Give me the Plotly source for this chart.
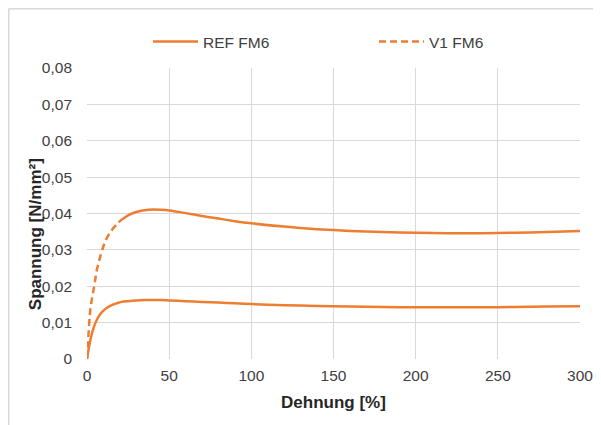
import plotly.graph_objects as go

strain = [0, 0.5, 1, 2, 3, 4, 5, 6, 8, 10, 12, 15, 18, 21, 25, 30, 35, 40, 45, 50,
          60, 70, 80, 90, 100, 120, 140, 160, 180, 200, 220, 240, 260, 280, 300]

ref_fm6 = [0, 0.0014, 0.0027, 0.0051, 0.0070, 0.0085, 0.0098, 0.0108, 0.0123, 0.0133,
           0.0140, 0.0148, 0.0153, 0.0157, 0.0159, 0.0161, 0.0162, 0.0162, 0.0162, 0.0161,
           0.0159, 0.0157, 0.0155, 0.0153, 0.0151, 0.0148, 0.0146, 0.0144, 0.0143, 0.0142,
           0.0142, 0.0142, 0.0143, 0.0144, 0.0145]

v1_fm6 = [0, 0.0040, 0.0075, 0.0135, 0.0165, 0.0190, 0.0218, 0.0245, 0.0280, 0.0310,
          0.0332, 0.0354, 0.0370, 0.0383, 0.0395, 0.0404, 0.0409, 0.0411, 0.0410, 0.0408,
          0.0401, 0.0393, 0.0386, 0.0379, 0.0373, 0.0364, 0.0357, 0.0352, 0.0349, 0.0347,
          0.0346, 0.0346, 0.0347, 0.0349, 0.0352]

y_ticks = [0, 0.01, 0.02, 0.03, 0.04, 0.05, 0.06, 0.07, 0.08]
y_ticktext = ["0", "0,01", "0,02", "0,03", "0,04", "0,05", "0,06", "0,07", "0,08"]
x_ticks = [0, 50, 100, 150, 200, 250, 300]

x_title = "Dehnung [%]"
y_title = "Spannung [N/mm²]"

ORANGE = "#ED7D31"
GRID = "#D9D9D9"
FONT = "Liberation Sans, Arial, sans-serif"

split = strain.index(21)

fig = go.Figure()
fig.add_trace(go.Scatter(x=strain, y=ref_fm6, mode="lines", name="REF FM6",
                         line=dict(color=ORANGE, width=2.5, shape="spline", smoothing=0.8),
                         legend="legend"))
fig.add_trace(go.Scatter(x=strain[:split + 1], y=v1_fm6[:split + 1], mode="lines", name="V1 FM6",
                         line=dict(color=ORANGE, width=2.5, dash="7px,4px", shape="spline", smoothing=0.8),
                         legend="legend2", legendgroup="v1"))
fig.add_trace(go.Scatter(x=strain[split:], y=v1_fm6[split:], mode="lines", name="V1 FM6",
                         line=dict(color=ORANGE, width=2.5, shape="spline", smoothing=0.8),
                         showlegend=False, legendgroup="v1"))

# page is rendered with an 8px body margin: convert page pixels to figure pixels
OFF = 8
W, H = 601, 425
left, right, top, bottom = 87 - OFF, 580 - OFF, 68 - OFF, 359.5 - OFF
ml, mr, mt, mb = left, W - right, top, H - bottom
pw = right - left
ph = bottom - top
px = lambda p: (p - OFF - left) / pw
py = lambda p: (bottom - (p - OFF)) / ph

legend_common = dict(orientation="h", yanchor="middle", xanchor="left",
                     font=dict(family=FONT, size=15.5, color="#404040"),
                     bgcolor="rgba(0,0,0,0)", itemwidth=45)

fig.update_layout(
    width=W, height=H,
    margin=dict(l=ml, r=mr, t=mt, b=mb, autoexpand=False),
    paper_bgcolor="white", plot_bgcolor="white",
    font=dict(family=FONT, size=15.5, color="#404040"),
    showlegend=True,
    legend=dict(x=px(148), y=py(42), **legend_common),
    legend2=dict(x=px(374), y=py(42), **legend_common),
    xaxis=dict(range=[0, 300], tickvals=x_ticks, showgrid=True, gridcolor=GRID, gridwidth=1,
               zeroline=False, showline=False, ticks="", automargin=False, ticklabelstandoff=5,
               tickfont=dict(family=FONT, size=15.5, color="#404040"),
               title=dict(text="<b>" + x_title + "</b>", standoff=13,
                          font=dict(family=FONT, size=17, color="#262626"))),
    yaxis=dict(range=[0, 0.08], tickvals=y_ticks, ticktext=y_ticktext, showgrid=True,
               gridcolor=GRID, gridwidth=1, zeroline=False, showline=False, ticks="",
               automargin=False, ticklabelstandoff=14,
               tickfont=dict(family=FONT, size=15.5, color="#404040")),
    annotations=[
        dict(text="<b>" + y_title + "</b>", xref="paper", yref="paper",
             x=px(35.5), y=py(235), xanchor="center", yanchor="middle", textangle=-90,
             showarrow=False, font=dict(family=FONT, size=17, color="#262626")),
    ],
    shapes=[
        dict(type="line", xref="paper", yref="paper", x0=px(8.75), x1=px(8.75), y0=py(440), y1=py(8.75),
             line=dict(color=GRID, width=1.5)),
        dict(type="line", xref="paper", yref="paper", x0=px(8.75), x1=px(620), y0=py(8.75), y1=py(8.75),
             line=dict(color=GRID, width=1.5)),
    ],
)

fig.write_html("out.html")
